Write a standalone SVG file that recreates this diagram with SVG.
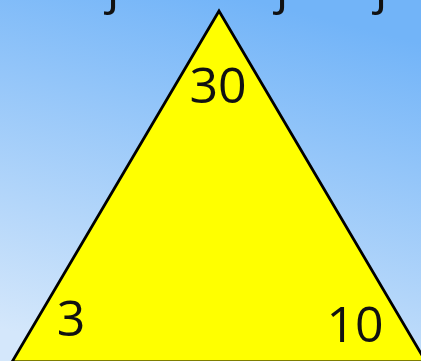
<svg xmlns="http://www.w3.org/2000/svg" width="421" height="361" viewBox="0 0 421 361">
<defs>
<linearGradient id="bg" x1="0.6" y1="0" x2="0.3" y2="1">
<stop offset="0" stop-color="#72b4f8"/>
<stop offset="1" stop-color="#d4e7fb"/>
</linearGradient>
<style>
.lbl{font-family:"Open Sans","Liberation Sans",sans-serif;font-size:50px;fill:#111;text-anchor:middle}
</style>
</defs>
<rect x="0" y="0" width="421" height="361" fill="url(#bg)"/>
<g id="top-text">
<text class="lbl" x="113" y="3">j</text>
<text class="lbl" x="282" y="3">j</text>
<text class="lbl" x="381" y="3">j</text>
</g>
<g id="triangle">
<polygon points="219,11 12,362 426,362" fill="#ffff00" stroke="#000" stroke-width="2.8" stroke-linejoin="miter"/>
</g>
<g id="labels">
<text class="lbl" x="218" y="103">30</text>
<text class="lbl" x="71" y="336">3</text>
<text class="lbl" x="355" y="342">10</text>
</g>
</svg>
